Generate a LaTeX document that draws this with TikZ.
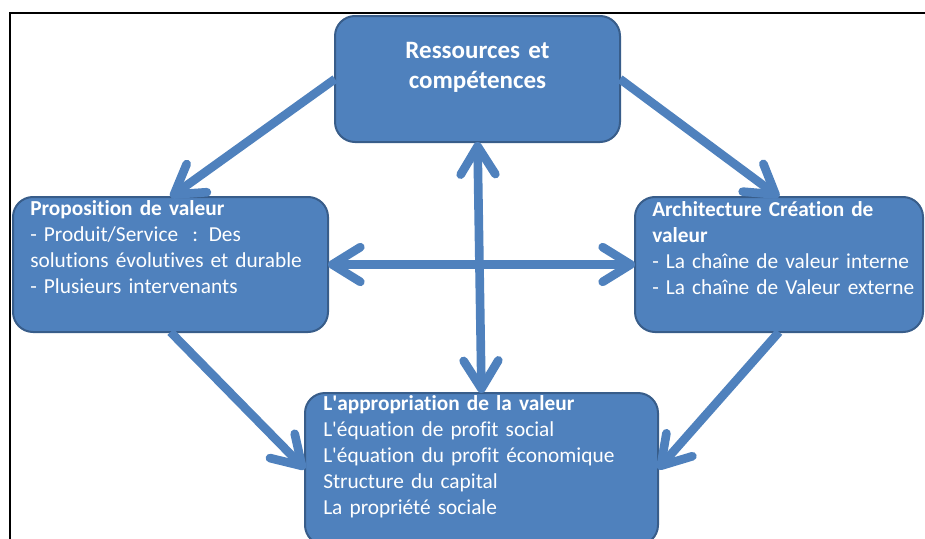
\documentclass[tikz,border=0pt]{standalone}
\usepackage{fontspec}
\setmainfont{Carlito}[Ligatures={NoCommon}]
\usepackage{tikz}
\usetikzlibrary{arrows.meta,positioning}

\definecolor{boxblue}{HTML}{4F81BD}
\definecolor{boxedge}{HTML}{385D8A}
\newcommand{\apos}{\textquotesingle}

\begin{document}
\begin{tikzpicture}[x=0.75pt,y=-0.75pt,
    box/.style={draw=boxedge,line width=1.5pt,fill=boxblue,rounded corners=15pt,
                inner sep=0pt,outer sep=0pt},
    txt/.style={text=white,inner sep=0pt,align=left,
                font=\fontsize{16pt}{19.6pt}\selectfont},
    barb/.tip={Straight Barb[length=21pt,width=26pt,round]},
    link/.style={draw=boxblue,line width=6.5pt,-barb},
    linkboth/.style={draw=boxblue,line width=6.5pt,barb-barb},
  ]
    \useasboundingbox (0,0) rectangle (925,539);
    % frame
    \draw[line width=1.1pt] (10,545) -- (10,13) -- (935,13);

    % the four blocks
    \node[box,minimum width=213.75pt,minimum height=94.5pt] (res) at (477.5,79) {};
    \node[box,minimum width=236.25pt,minimum height=101.25pt] (prop) at (170.5,264.5) {};
    \node[box,minimum width=216pt,minimum height=101.25pt] (arch) at (779,264.5) {};
    \node[box,minimum width=264.75pt,minimum height=114pt] (appro) at (481.5,469) {};

    \node[txt,align=center,text width=200pt,
          font=\fontsize{18.75pt}{22.5pt}\selectfont\bfseries,
          below=31.5pt of res.north,anchor=base] (restxt)
      {Ressources et\\compétences};
    \node[txt,text width=217.5pt,below right=13.5pt and 12.75pt of prop.north west,
          anchor=base west] (proptxt)
      {\textbf{Proposition de valeur}\\
       - Produit/Service~~: Des\\
       solutions évolutives et durable\\
       - Plusieurs intervenants};
    \node[txt,text width=210pt,below right=14.25pt and 12.75pt of arch.north west,
          anchor=base west] (archtxt)
      {\textbf{Architecture Création de}\\
       \textbf{valeur}\\
       - La chaîne de valeur interne\\
       - La chaîne de Valeur externe};
    \node[txt,text width=240pt,below right=12.75pt and 13.5pt of appro.north west,
          anchor=base west] (approtxt)
      {\textbf{L\apos appropriation de la valeur}\\
       L\apos équation de profit social\\
       L\apos équation du profit économique\\
       Structure du capital\\
       La propriété sociale};

    % arrows
    \draw[link] (res.west) -- (prop.north);
    \draw[link] (res.east) -- (arch.north);
    \draw[link] (prop.south) -- (appro.west);
    \draw[link] (arch.south) -- (appro.east);
    \draw[linkboth] (res.south) -- (appro.north);
    \draw[linkboth] (prop.east) -- (arch.west);
  \end{tikzpicture}
\end{document}
